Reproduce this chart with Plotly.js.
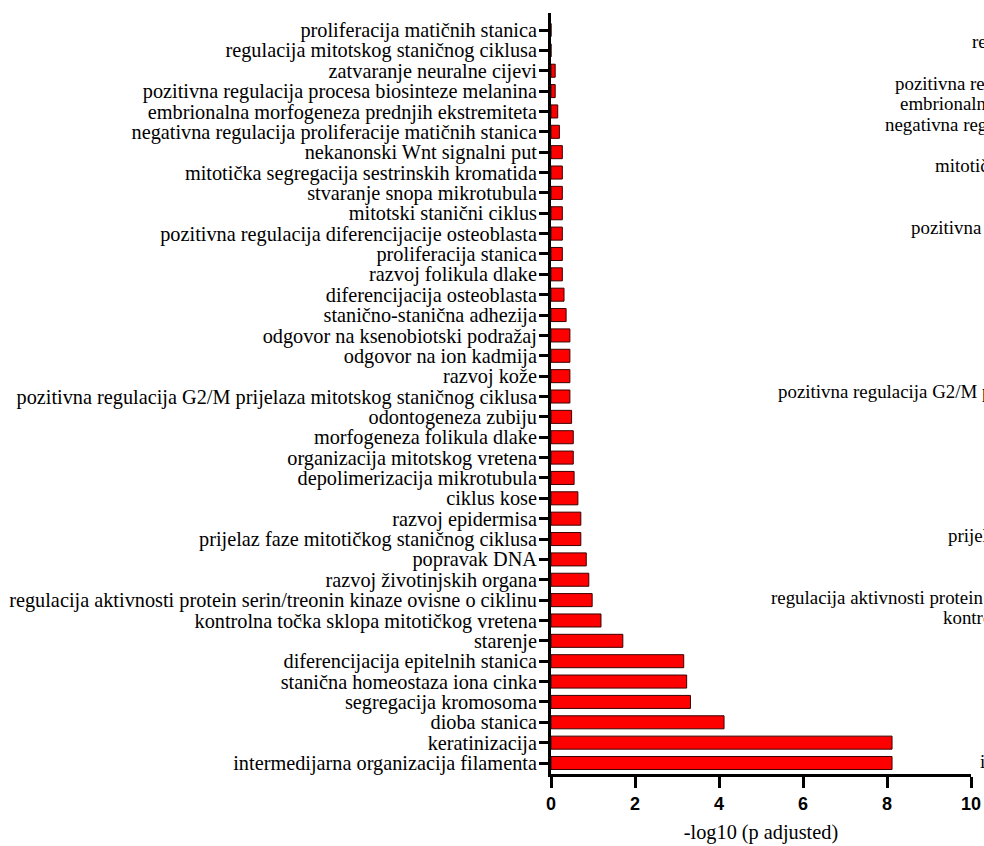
<!DOCTYPE html>
<html>
<head>
<meta charset="utf-8">
<script src="https://cdn.plot.ly/plotly-3.0.1.min.js"></script>
<style>
  html, body { margin: 0; padding: 0; background: #ffffff; overflow: hidden; }
  #chart { width: 984px; height: 846px; }
</style>
</head>
<body>
<div id="chart"></div>
<script>
// Categories, top to bottom as shown in the chart
const categories = [
  "proliferacija matičnih stanica",
  "regulacija mitotskog staničnog ciklusa",
  "zatvaranje neuralne cijevi",
  "pozitivna regulacija procesa biosinteze melanina",
  "embrionalna morfogeneza prednjih ekstremiteta",
  "negativna regulacija proliferacije matičnih stanica",
  "nekanonski Wnt signalni put",
  "mitotička segregacija sestrinskih kromatida",
  "stvaranje snopa mikrotubula",
  "mitotski stanični ciklus",
  "pozitivna regulacija diferencijacije osteoblasta",
  "proliferacija stanica",
  "razvoj folikula dlake",
  "diferencijacija osteoblasta",
  "stanično-stanična adhezija",
  "odgovor na ksenobiotski podražaj",
  "odgovor na ion kadmija",
  "razvoj kože",
  "pozitivna regulacija G2/M prijelaza mitotskog staničnog ciklusa",
  "odontogeneza zubiju",
  "morfogeneza folikula dlake",
  "organizacija mitotskog vretena",
  "depolimerizacija mikrotubula",
  "ciklus kose",
  "razvoj epidermisa",
  "prijelaz faze mitotičkog staničnog ciklusa",
  "popravak DNA",
  "razvoj životinjskih organa",
  "regulacija aktivnosti protein serin/treonin kinaze ovisne o ciklinu",
  "kontrolna točka sklopa mitotičkog vretena",
  "starenje",
  "diferencijacija epitelnih stanica",
  "stanična homeostaza iona cinka",
  "segregacija kromosoma",
  "dioba stanica",
  "keratinizacija",
  "intermedijarna organizacija filamenta"
];

// -log10(p adjusted), same order as categories
const negLog10P = [
  0, 0, 0.1, 0.1, 0.16, 0.2, 0.27, 0.27, 0.27, 0.27,
  0.27, 0.27, 0.27, 0.31, 0.36, 0.45, 0.45, 0.45, 0.45, 0.49,
  0.53, 0.53, 0.55, 0.64, 0.71, 0.71, 0.84, 0.9, 0.98, 1.19,
  1.71, 3.16, 3.23, 3.32, 4.12, 8.12, 8.12
];

const xTickValues = [0, 2, 4, 6, 8, 10];
const xTitle = "-log10 (p adjusted)";

// Labels of the neighbouring panel that peek in (cut off) at the right edge
const neighbourLabels = [
  "pozitivna regulacija procesa biosinteze melanina",
  "embrionalna morfogeneza prednjih ekstremiteta",
  "negativna regulacija proliferacije matičnih stanica",
  "mitotička segregacija sestrinskih kromatida",
  "pozitivna regulacija diferencijacije osteoblasta",
  "pozitivna regulacija G2/M prijelaza mitotskog staničnog ciklusa",
  "prijelaz faze mitotičkog staničnog ciklusa",
  "regulacija aktivnosti protein serin/treonin kinaze ovisne o ciklinu",
  "kontrolna točka sklopa mitotičkog vretena",
  "intermedijarna organizacija filamenta"
];
// only the first letters of this neighbouring label are visible
const neighbourFragment = { row: "regulacija mitotskog staničnog ciklusa", text: "re" };

const serif = "Liberation Serif, Times New Roman, serif";
const labelSize = 20.3;
const neighbourSize = 18.9;

const trace = {
  type: "bar",
  orientation: "h",
  x: negLog10P,
  y: categories,
  marker: { color: "#ff0000", line: { color: "#3a0000", width: 1 } },
  hoverinfo: "x+y"
};

const ghostTrace = {
  type: "scatter", mode: "markers",
  x: [], y: [],
  yaxis: "y2", hoverinfo: "skip", showlegend: false
};

const ghostAnnotations = neighbourLabels.map(c => ({
  xref: "paper", yref: "y2",
  x: 1.701, y: c,
  xanchor: "right", yanchor: "middle",
  text: c, showarrow: false,
  font: { family: serif, size: neighbourSize, color: "#000" }
}));
ghostAnnotations.push({
  xref: "paper", yref: "y2",
  x: 0.9976, y: neighbourFragment.row,
  xanchor: "left", yanchor: "middle",
  text: neighbourFragment.text, showarrow: false,
  font: { family: serif, size: neighbourSize, color: "#000" }
});

const layout = {
  width: 984, height: 846,
  margin: { l: 551, r: 13, t: 13, b: 72 },
  paper_bgcolor: "#ffffff",
  plot_bgcolor: "#ffffff",
  showlegend: false,
  bargap: 0.36,
  xaxis: {
    range: [0, 10],
    tickmode: "array",
    tickvals: xTickValues,
    ticktext: xTickValues.map(String),
    showgrid: false, zeroline: false,
    showline: true, linecolor: "#000", linewidth: 3,
    ticks: "outside", ticklen: 11, tickwidth: 3, tickcolor: "#000",
    tickfont: { family: "Liberation Sans, Arial, sans-serif", size: 18, color: "#000", weight: "bold" },
    title: { text: xTitle, font: { family: serif, size: labelSize, color: "#000" }, standoff: 13 }
  },
  yaxis: {
    type: "category",
    categoryorder: "array",
    categoryarray: categories,
    tickmode: "array",
    tickvals: categories,
    ticktext: categories,
    range: [36.54, -0.835],
    showgrid: false, zeroline: false,
    showline: true, linecolor: "#000", linewidth: 3,
    ticks: "outside", ticklen: 9, tickwidth: 3, tickcolor: "#000",
    ticklabelstandoff: -2,
    tickfont: { family: serif, size: labelSize, color: "#000" }
  },
  yaxis2: {
    type: "category",
    categoryorder: "array",
    categoryarray: categories,
    range: [36.60, -0.41],
    overlaying: "y",
    showgrid: false, zeroline: false, showline: false,
    showticklabels: false, ticks: ""
  },
  annotations: ghostAnnotations
};

Plotly.newPlot("chart", [trace, ghostTrace], layout, { displayModeBar: false, staticPlot: true });
</script>
</body>
</html>
